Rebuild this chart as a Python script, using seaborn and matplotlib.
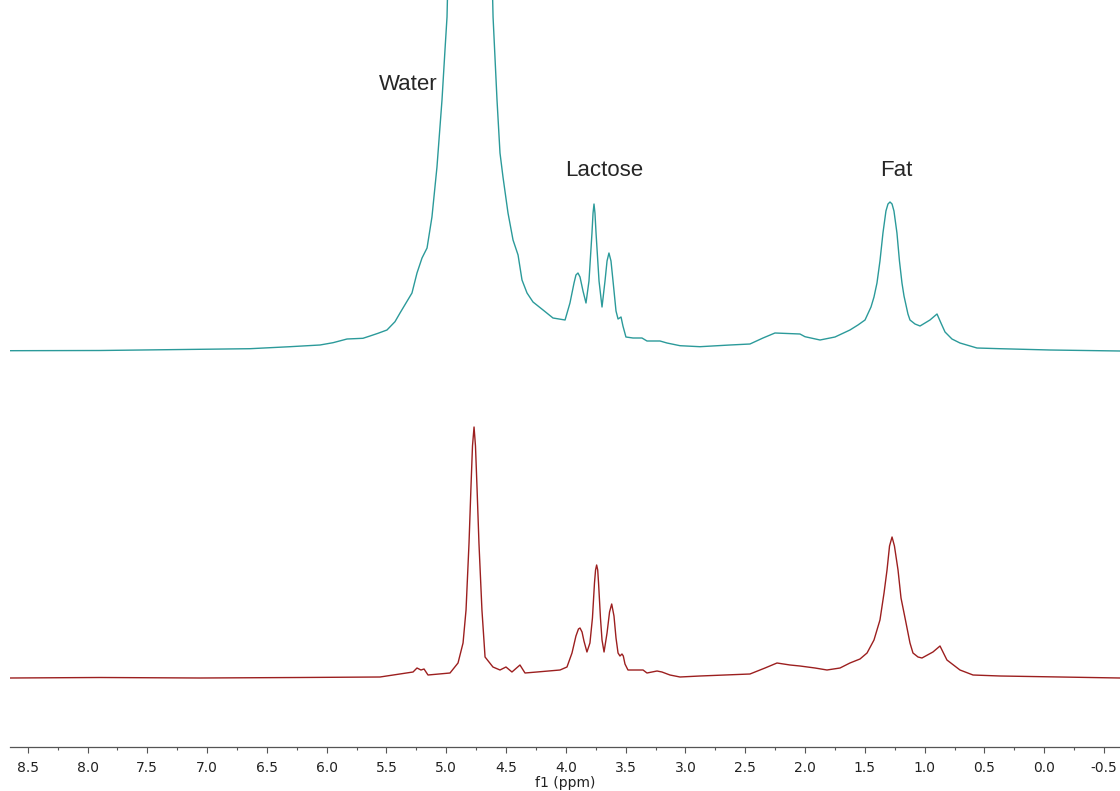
import numpy as np
import pandas as pd
import seaborn as sns
import matplotlib
matplotlib.use("Agg")
import matplotlib.pyplot as plt
from matplotlib.ticker import MultipleLocator, FormatStrFormatter

# Spectrum readings: chemical shift (ppm) and intensity above each trace's own baseline
top_ppm = [8.648, 7.896, 7.059, 6.641, 6.307, 6.056, 5.947, 5.830, 5.697, 5.638,
           5.571, 5.496, 5.429, 5.387, 5.287, 5.245, 5.203, 5.161, 5.120, 5.078,
           5.036, 5.011, 4.994, 4.985, 4.80, 4.618, 4.609, 4.576, 4.551, 4.526,
           4.484, 4.442, 4.400, 4.367, 4.325, 4.275, 4.191, 4.108, 4.007, 3.966,
           3.932, 3.916, 3.899, 3.882, 3.857, 3.832, 3.807, 3.782, 3.773, 3.765,
           3.757, 3.748, 3.723, 3.698, 3.673, 3.656, 3.640, 3.623, 3.606, 3.581,
           3.564, 3.539, 3.523, 3.498, 3.439, 3.364, 3.322, 3.213, 3.155, 3.046,
           2.879, 2.628, 2.461, 2.352, 2.252, 2.043, 2.001, 1.875, 1.750, 1.625,
           1.558, 1.499, 1.449, 1.424, 1.399, 1.374, 1.349, 1.324, 1.307, 1.290,
           1.273, 1.257, 1.232, 1.211, 1.190, 1.173, 1.140, 1.123, 1.081, 1.039,
           0.956, 0.897, 0.864, 0.830, 0.772, 0.705, 0.563, 0.370, -0.048, -0.633]
top_int = [0.3, 0.5, 1.7, 2.3, 4.3, 6, 8.3, 12, 12.7, 15,
           17.7, 21, 29.3, 38, 58, 78, 93, 103, 134, 184,
           251, 301, 334, 380, 1200, 380, 334, 251, 198, 174,
           138, 111, 96, 71, 58, 49, 41, 33, 31, 48,
           68, 76, 78, 74, 60, 48, 70, 118, 138, 147,
           138, 118, 70, 44, 70, 90, 98, 90, 70, 40,
           32, 34, 25, 14, 13, 13, 10, 10, 8, 5.3,
           4.3, 6, 7, 13, 18, 17, 14.3, 11, 14, 21,
           26, 31, 44, 54, 68, 90, 118, 140, 147, 149,
           147, 140, 118, 90, 68, 55, 37, 31, 27, 25,
           31, 37, 28, 19, 12, 8, 3, 2.3, 1, 0]

bottom_ppm = [8.648, 7.896, 7.059, 6.223, 5.554, 5.278, 5.245, 5.212, 5.186, 5.153,
              4.969, 4.902, 4.860, 4.835, 4.810, 4.794, 4.781, 4.768, 4.756, 4.743,
              4.727, 4.702, 4.676, 4.610, 4.551, 4.501, 4.451, 4.384, 4.342, 4.242,
              4.049, 3.991, 3.949, 3.916, 3.895, 3.882, 3.865, 3.849, 3.824, 3.799,
              3.778, 3.761, 3.752, 3.743, 3.734, 3.727, 3.711, 3.698, 3.681, 3.656,
              3.635, 3.617, 3.598, 3.581, 3.564, 3.548, 3.531, 3.520, 3.506, 3.481,
              3.355, 3.322, 3.238, 3.197, 3.130, 3.046, 2.879, 2.461, 2.335, 2.235,
              2.126, 2.043, 1.917, 1.817, 1.708, 1.625, 1.541, 1.482, 1.424, 1.374,
              1.340, 1.315, 1.294, 1.273, 1.253, 1.223, 1.198, 1.161, 1.123, 1.098,
              1.056, 1.023, 0.931, 0.872, 0.839, 0.814, 0.705, 0.596, 0.370, -0.633]
bottom_int = [0, 0.5, 0, 0.5, 1, 6, 10, 8, 9, 3,
              5, 15, 35, 68, 135, 190, 232, 251, 232, 190,
              135, 68, 21, 11, 8, 11, 6, 13, 5, 6,
              8, 11, 25, 42, 49, 50, 46, 37, 26, 35,
              60, 95, 108, 113, 108, 95, 60, 38, 26, 45,
              66, 74, 62, 40, 25, 22, 24, 22, 14, 8,
              8, 5, 7, 6, 3, 1, 2, 4, 10, 15,
              13, 12, 10, 8, 10, 15, 19, 25, 38, 58,
              85, 108, 132, 141, 132, 108, 80, 58, 35, 25,
              21, 20, 26, 32, 24, 18, 8, 3, 2, 0]

labels = ["Water", "Lactose", "Fat"]
label_ppm = [5.32, 3.68, 1.24]

# stacking offsets for the two traces
top_offset = 395.7
bottom_offset = 68.7

top = pd.DataFrame({"ppm": top_ppm, "y": np.array(top_int) + top_offset})
bottom = pd.DataFrame({"ppm": bottom_ppm, "y": np.array(bottom_int) + bottom_offset})

sns.set_style("white")
plt.rcParams["axes.unicode_minus"] = False

fig = plt.figure(figsize=(11.2, 7.91), dpi=100)
ax = fig.add_axes([10 / 1120, 44.3 / 791, 1110 / 1120, 746.7 / 791])

sns.lineplot(data=top, x="ppm", y="y", color="#2b9a9a", lw=1.0, estimator=None, sort=False, ax=ax)
sns.lineplot(data=bottom, x="ppm", y="y", color="#9c1f1f", lw=1.0, estimator=None, sort=False, ax=ax)

ax.set_xlim(8.648, -0.633)
ax.set_ylim(0, 746.7)

# annotations above the peaks
ax.text(label_ppm[0], 662.7, labels[0], ha="center", va="center", fontsize=16, family="Liberation Sans")
ax.text(label_ppm[1], 576.7, labels[1], ha="center", va="center", fontsize=16, family="Liberation Sans")
ax.text(label_ppm[2], 576.7, labels[2], ha="center", va="center", fontsize=16, family="Liberation Sans")

for s in ["left", "right", "top"]:
    ax.spines[s].set_visible(False)
ax.spines["bottom"].set_color("#555555")
ax.spines["bottom"].set_linewidth(0.9)

ax.xaxis.set_major_locator(MultipleLocator(0.5))
ax.xaxis.set_minor_locator(MultipleLocator(0.25))
ax.xaxis.set_major_formatter(FormatStrFormatter("%.1f"))
ax.tick_params(axis="x", which="major", direction="out", length=4, width=0.8,
               color="#555555", labelsize=10, labelcolor="#222222", pad=6, bottom=True)
ax.tick_params(axis="x", which="minor", direction="out", length=2.5, width=0.8,
               color="#555555", bottom=True)
ax.set_yticks([])
ax.set_ylabel("")
ax.set_xlabel("f1 (ppm)", fontsize=10, color="#222222", labelpad=1)

fig.savefig("out.png", dpi=100)
